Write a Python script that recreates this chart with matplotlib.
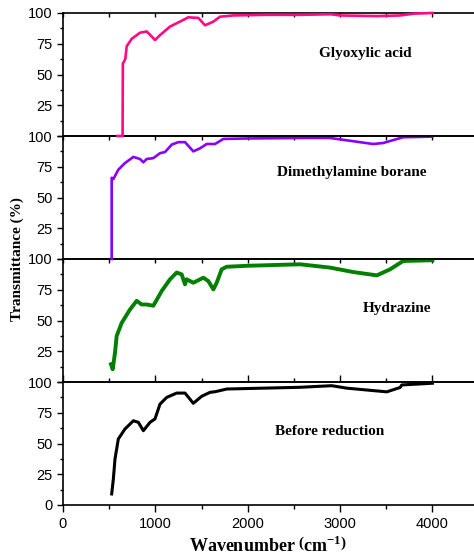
import matplotlib
matplotlib.use("Agg")
import matplotlib.pyplot as plt
from matplotlib.ticker import MultipleLocator, FixedLocator

# Glyoxylic acid
glyoxylic_w = [590, 645, 648, 665, 675, 690, 744, 834, 906, 960, 996, 1050, 1159, 1267, 1357,
               1465, 1538, 1628, 1700, 1841, 2200, 2567, 2900, 3000, 3400, 3650, 3800, 4000]
glyoxylic_t = [0, 0, 59, 61, 63, 73, 79, 84, 85, 81, 78, 82, 89, 93, 96.5,
               96, 90, 93, 97, 98, 98.5, 98.5, 99, 98, 97.5, 98, 99.5, 100]

# Dimethylamine borane
dmab_w = [527, 527, 545, 563, 599, 671, 762, 834, 870, 906, 978, 1050, 1105, 1177, 1249,
          1321, 1411, 1484, 1556, 1646, 1736, 2000, 2567, 2890, 3072, 3357, 3466, 3683, 4000]
dmab_t = [0, 66, 65, 67.5, 72.6, 78, 83, 81.3, 78.6, 81.3, 82, 86, 87, 93, 95,
          95, 87.5, 90, 93.5, 93.5, 97.6, 98, 98.4, 98.4, 96.5, 93.5, 94.3, 99, 99.5]

# Hydrazine
hydrazine_w = [520, 538, 563, 581, 635, 726, 798, 852, 906, 978, 1069, 1159, 1231, 1285, 1321,
               1339, 1411, 1520, 1574, 1628, 1664, 1718, 1773, 2000, 2567, 2892, 3142, 3398,
               3541, 3683, 4000]
hydrazine_t = [14.4, 10.3, 23.8, 37.4, 48, 59, 66, 63, 63, 62, 74, 83.5, 89, 87.5, 79.4,
               83.5, 80.7, 84.8, 82, 75.3, 80.7, 91.6, 93.7, 94.5, 95.7, 93, 89.4, 86.7,
               91.6, 98.4, 99]

# Before reduction
before_w = [527, 545, 563, 599, 671, 762, 816, 870, 942, 996, 1050, 1123, 1231, 1321, 1411,
            1502, 1592, 1646, 1700, 1773, 2567, 2910, 3072, 3505, 3628, 3650, 3668, 4000]
before_t = [9, 21, 37.4, 53.7, 61.8, 68.5, 67.2, 60.4, 67.2, 70, 82, 87.5, 91, 91, 82.7,
            88.4, 91.6, 92.1, 93, 94.3, 95.7, 97, 95, 92, 95, 95.5, 97.6, 99]

series = [
    (glyoxylic_w, glyoxylic_t, "#ff0a84", 1.9, "Glyoxylic acid", 3270, 67),
    (dmab_w, dmab_t, "#8a00ff", 1.9, "Dimethylamine borane", 3130, 70),
    (hydrazine_w, hydrazine_t, "#008000", 2.8, "Hydrazine", 3620, 60),
    (before_w, before_t, "#000000", 2.2, "Before reduction", 2890, 60),
]

serif = "Liberation Serif"
sans = "Liberation Sans"

plt.rcParams["mathtext.fontset"] = "custom"
plt.rcParams["mathtext.rm"] = "Liberation Serif:bold"
plt.rcParams["mathtext.bf"] = "Liberation Serif:bold"

fig = plt.figure(figsize=(4.74, 5.59), dpi=100)
left, right, bottom, top = 63 / 474, 1.0, 54 / 559, 546 / 559
h = (top - bottom) / 4

for i, (w, t, color, lw, name, lx, ly) in enumerate(series):
    ax = fig.add_axes([left, top - (i + 1) * h, right - left, h])
    ax.set_zorder(4 - i)
    ax.patch.set_alpha(0)
    ax.plot(w, t, color=color, lw=lw, zorder=3, clip_on=False)
    ax.set_xlim(0, 4450)
    ax.set_ylim(0, 100)
    ax.spines["right"].set_visible(False)
    for s in ["left", "bottom", "top"]:
        ax.spines[s].set_linewidth(1.2)
    ax.text(lx, ly, name, ha="center", va="center", fontsize=11,
            fontweight="bold", family=serif)
    ax.yaxis.set_major_locator(FixedLocator([0, 25, 50, 75, 100]))
    ax.yaxis.set_minor_locator(MultipleLocator(12.5))
    ax.xaxis.set_major_locator(MultipleLocator(1000))
    ax.xaxis.set_minor_locator(MultipleLocator(500))
    ax.tick_params(axis="y", which="major", direction="out", length=4, width=1,
                   labelsize=10.5)
    ax.tick_params(axis="y", which="minor", direction="out", length=2.5, width=1)
    if i < 3:
        ax.set_yticklabels(["", "25", "50", "75", "100"])
        ax.tick_params(axis="x", which="both", bottom=False, labelbottom=False,
                       top=True, direction="in", length=3, width=1)
    else:
        ax.tick_params(axis="x", which="major", direction="out", length=5, width=1,
                       labelsize=10.5)
        ax.tick_params(axis="x", which="minor", direction="out", length=3, width=1)
        ax.tick_params(axis="x", which="both", top=True)
    for lab in ax.get_xticklabels() + ax.get_yticklabels():
        lab.set_family(sans)

fig.text(0.036, (bottom + top) / 2, "Transmittance (%)", rotation=90, ha="center",
         va="center", fontsize=11, fontweight="bold", family=serif)

fig.text((63 + 474) / 2 / 474, 13 / 559,
         r"Wavenumber $\left(\mathrm{cm}^{\mathrm{-1}}\right)$",
         ha="center", va="center", fontsize=13, fontweight="bold", family=serif)

fig.savefig("out.png", dpi=100)
